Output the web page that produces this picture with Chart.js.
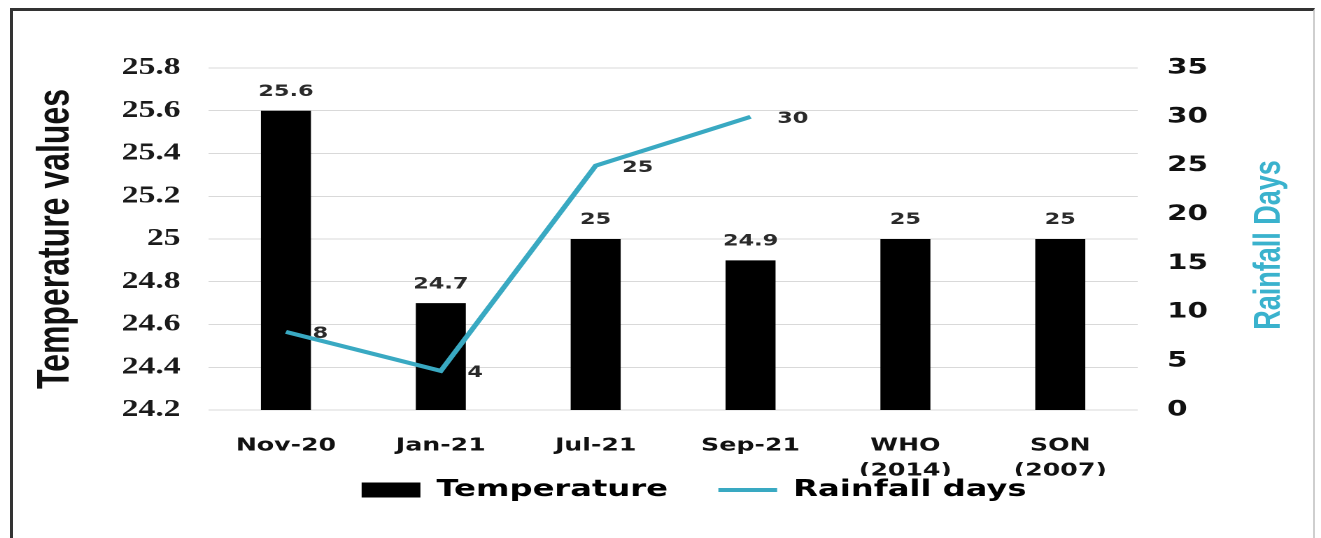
<!DOCTYPE html>
<html>
<head>
<meta charset="utf-8">
<title>Temperature and rainfall days</title>
<script src="https://cdn.jsdelivr.net/npm/chart.js@4.4.1/dist/chart.umd.min.js"></script>
<style>
  html, body { margin: 0; padding: 0; background: #fff; overflow: hidden; }
  body { width: 1321px; height: 538px; position: relative; }
  /* chart is laid out narrow and widened, which gives the broad lettering */
  #chart { position: absolute; left: 0; top: 0; transform: scaleX(1.39936); transform-origin: 0 0; }
  .frame {
    position: absolute; left: 10px; top: 8px; width: 1300px; height: 600px;
    border-top: 3px solid #333; border-left: 3px solid #333; border-right: 2px solid #cfcfcf;
    pointer-events: none;
  }
</style>
</head>
<body>
<canvas id="chart" width="944" height="538"></canvas>
<div class="frame"></div>
<script>
// Categories and series
const categories = ["Nov-20", "Jan-21", "Jul-21", "Sep-21", ["WHO", "(2014)"], ["SON", "(2007)"]];
const temperature = [25.6, 24.7, 25, 24.9, 25, 25];
const rainfallDays = [8, 4, 25, 30, null, null];

// Axis ticks
const tempTicks = [24.2, 24.4, 24.6, 24.8, 25, 25.2, 25.4, 25.6, 25.8];
const rainTicks = [0, 5, 10, 15, 20, 25, 30, 35];

const TEAL = "#39a9c2";

// Value labels above bars and beside the line points
const valueLabels = {
  id: "valueLabels",
  afterDatasetsDraw(chart) {
    const ctx = chart.ctx;
    ctx.save();
    ctx.font = "bold 16px 'DejaVu Sans'";
    ctx.fillStyle = "#2a2a2a";
    ctx.textBaseline = "middle";
    chart.data.datasets.forEach((ds, i) => {
      const meta = chart.getDatasetMeta(i);
      meta.data.forEach((el, j) => {
        const v = ds.data[j];
        if (v == null) return;
        if (meta.type === "bar") {
          ctx.textAlign = "center";
          ctx.fillText(String(v), el.x, el.y - 19);
        } else {
          ctx.textAlign = "left";
          ctx.fillText(String(v), el.x + 19, el.y + 2);
        }
      });
    });
    ctx.restore();
  }
};

// Right axis title, reading bottom to top
const rightTitle = {
  id: "rightTitle",
  afterDraw(chart) {
    const s = chart.scales.y1;
    const ctx = chart.ctx;
    ctx.save();
    ctx.translate(s.right - 37, (s.top + s.bottom) / 2 + 6);
    ctx.rotate(-Math.PI / 2);
    ctx.font = "bold 27px 'Liberation Sans'";
    ctx.fillStyle = "#3ab2cd";
    ctx.textAlign = "center";
    ctx.textBaseline = "middle";
    ctx.fillText("Rainfall Days", 0, 0);
    ctx.restore();
  }
};

// Move the legend right and up, into the space under the axis labels
const legendNudge = {
  id: "legendNudge",
  afterLayout(chart) {
    const lg = chart.legend;
    lg.left += 24;
    lg.right += 24;
    lg.top -= 33.5;
    lg.bottom -= 33.5;
  }
};

new Chart(document.getElementById("chart"), {
  type: "bar",
  data: {
    labels: categories,
    datasets: [
      {
        type: "line",
        label: "Rainfall days",
        data: rainfallDays,
        yAxisID: "y1",
        borderColor: TEAL,
        backgroundColor: TEAL,
        borderWidth: 4,
        pointRadius: 0,
        tension: 0,
        order: 0
      },
      {
        type: "bar",
        label: "Temperature",
        data: temperature,
        yAxisID: "y",
        backgroundColor: "#000",
        barPercentage: 0.323,
        categoryPercentage: 1,
        order: 1
      }
    ]
  },
  options: {
    responsive: false,
    devicePixelRatio: 2,
    animation: false,
    layout: { padding: { top: 68, left: 0, right: 0, bottom: 0 } },
    plugins: {
      tooltip: { enabled: false },
      legend: {
        position: "bottom",
        maxHeight: 62,
        labels: {
          usePointStyle: true,
          pointStyleWidth: 42,
          boxHeight: 15,
          padding: 36,
          color: "#111",
          font: { family: "DejaVu Sans", size: 23, weight: "bold" },
          generateLabels: () => [
            { text: "Temperature", pointStyle: "rect", fillStyle: "#000", strokeStyle: "#000", lineWidth: 0, datasetIndex: 1 },
            { text: "Rainfall days", pointStyle: "line", fillStyle: TEAL, strokeStyle: TEAL, lineWidth: 4, datasetIndex: 0 }
          ]
        }
      }
    },
    scales: {
      x: {
        grid: { display: false },
        border: { display: false },
        ticks: {
          color: "#111",
          padding: 15,
          maxRotation: 0,
          autoSkip: false,
          font: { family: "DejaVu Sans", size: 18, weight: "bold", lineHeight: 1.4 }
        },
        afterFit: s => { s.height = 66; }
      },
      y: {
        position: "left",
        min: 24.2,
        max: 25.8,
        afterBuildTicks: s => { s.ticks = tempTicks.map(v => ({ value: v })); },
        grid: { color: "#d9d9d9", drawTicks: false },
        border: { display: false },
        ticks: {
          color: "#1a1a1a",
          padding: 20,
          font: { family: "Liberation Serif", size: 24, weight: "bold" },
          callback: v => String(v)
        },
        title: {
          display: true,
          text: "Temperature values",
          color: "#111",
          font: { family: "Liberation Sans", size: 32, weight: "bold" },
          padding: { top: 21, bottom: 0 }
        },
        afterFit: s => { s.width = 149; }
      },
      y1: {
        position: "right",
        min: 0,
        max: 35,
        afterBuildTicks: s => { s.ticks = rainTicks.map(v => ({ value: v })); },
        grid: { display: false, drawTicks: false },
        border: { display: false },
        ticks: {
          color: "#111",
          padding: 21,
          font: { family: "DejaVu Sans", size: 21, weight: "bold" }
        },
        afterFit: s => { s.width = 131; }
      }
    }
  },
  plugins: [valueLabels, rightTitle, legendNudge]
});
</script>
</body>
</html>
